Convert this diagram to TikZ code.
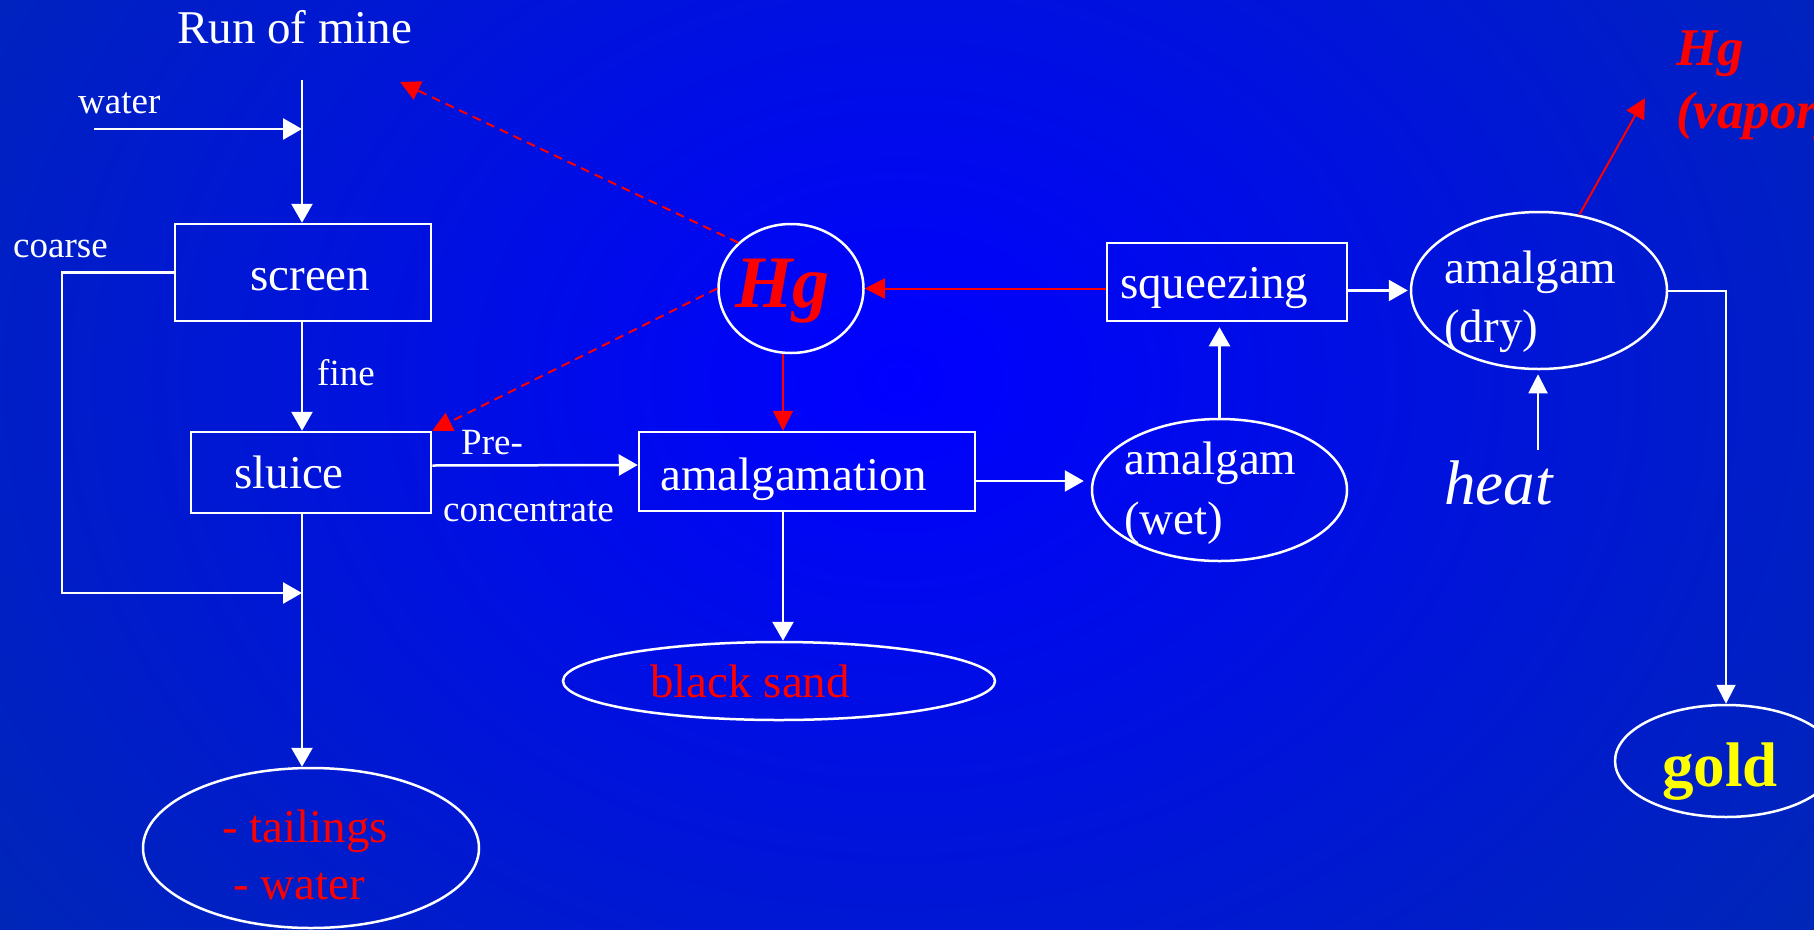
\documentclass[tikz,border=0pt]{standalone}
\usepackage{fontspec}
\setmainfont{Liberation Serif}
\usetikzlibrary{arrows.meta,calc,shapes.geometric}
\definecolor{bgedge}{RGB}{0,51,160}
\definecolor{bgmid}{RGB}{0,0,255}
\definecolor{hgred}{RGB}{255,0,0}
\definecolor{goldy}{RGB}{255,255,0}
\newcommand\fsz[1]{\fontsize{#1}{#1}\selectfont}
\begin{document}
\begin{tikzpicture}[x=1pt,y=-1pt,
 wline/.style={draw=white,line width=2.5pt},
 warrow/.style={wline,-{Triangle[length=19pt,width=21pt]}},
 thinarrow/.style={draw=white,line width=2pt,-{Triangle[length=19pt,width=19pt]}},
 rarrow/.style={draw=hgred,line width=2pt,-{Triangle[length=20pt,width=20pt]}},
 rdash/.style={rarrow,dash pattern=on 9pt off 6pt},
 boxnode/.style={draw=white,line width=2.5pt,rectangle,inner sep=0pt},
 ellnode/.style={draw=white,line width=2.5pt,ellipse,inner sep=0pt},
 txt/.style={anchor=base west,inner sep=0pt,text=white},
 big/.style={font=\fsz{47}},
 small/.style={font=\fsz{37}},
]
\useasboundingbox (0,0) rectangle (1814,929);
\clip (0,0) rectangle (1814,929);
\fill[bgedge] (0,0) rectangle (1814,929);
\shade[inner color=bgmid,outer color=bgedge] (900,380) ellipse (1500 and 1200);

% shapes
\node[boxnode,minimum width=256pt,minimum height=97pt] (screen) at (303,272.5) {};
\node[boxnode,minimum width=240pt,minimum height=81pt] (sluice) at (311,472.5) {};
\node[boxnode,minimum width=336pt,minimum height=79pt] (amalg) at (807,471.5) {};
\node[boxnode,minimum width=240pt,minimum height=78pt] (squeeze) at (1227,282) {};
\node[ellnode,minimum width=145pt,minimum height=129pt] (hg) at (791,288.5) {};
\node[ellnode,minimum width=256pt,minimum height=157pt] (dry) at (1539,290.5) {};
\node[ellnode,minimum width=255pt,minimum height=142pt] (wet) at (1219.5,490) {};
\node[ellnode,minimum width=432pt,minimum height=78pt] (sand) at (779,681) {};
\node[ellnode,minimum width=336pt,minimum height=160pt] (tail) at (311,848) {};
\node[ellnode,minimum width=222pt,minimum height=112pt] (gold) at (1726,761) {};

% texts
\node[txt,big] (trun) at (177,43) {Run of mine};
\node[txt,small] (twater) at (78,113) {water};
\node[txt,small] (tcoarse) at (13,257) {coarse};
\node[txt,small] (tfine) at (317,385) {fine};
\node[txt,big] (tscreen) at (250,290) {screen};
\node[txt,big] (tsluice) at (234,488.5) {sluice};
\node[txt,small] (tpre) at (461,454) {Pre-};
\node[txt,small] (tconc) at (443,521) {concentrate};
\node[txt,big] (tamalg) at (660,490) {amalgamation};
\node[txt,font=\fsz{74}\bfseries\itshape,text=hgred] (thg) at (735,307) {Hg};
\node[txt,big] (tsq) at (1120,298) {squeezing};
\node[txt,big] (tdry1) at (1444,283) {amalgam};
\node[txt,big] (tdry2) at (1444,342) {(dry)};
\node[txt,big] (twet1) at (1124,474.5) {amalgam};
\node[txt,big] (twet2) at (1124,534) {(wet)};
\node[txt,font=\fsz{63}\itshape] (theat) at (1444,504) {heat};
\node[txt,big,text=hgred] (tsand) at (650,697) {black sand};
\node[txt,big,text=hgred] (ttail1) at (222,842) {- tailings};
\node[txt,big,text=hgred] (ttail2) at (233,899) {- water};
\node[txt,font=\fsz{63}\bfseries,text=goldy] (tgold) at (1662,786) {gold};
\node[txt,font=\fsz{53}\bfseries\itshape,text=hgred] (tv1) at (1676,65) {Hg};
\node[txt,font=\fsz{53}\bfseries\itshape,text=hgred] (tv2) at (1676,128) {(vapor)};

% free ends
\coordinate (top) at (302,80);
\coordinate (wsrc) at (94,129);
\coordinate (join) at (302,593);
\coordinate (cl) at (62,0);
\coordinate (heatsrc) at (1538,450);
\coordinate (vap) at (1645,98);
\coordinate (mine) at (400,82);
\coordinate (mx) at (783,0);

% connectors
\draw[warrow] (top) -- (top |- screen.north);
\draw[warrow] (wsrc) -- (wsrc -| top);
\draw[warrow] (screen.west) -- (screen.west -| cl) |- (join);
\draw[warrow] (top |- screen.south) -- (top |- sluice.north);
\draw[warrow] (top |- sluice.south) -- (top |- tail.north);
\draw[warrow] ($(sluice.east)+(0,-7)$) -- ($(amalg.west)+(0,-6.5)$);
\draw[warrow] (mx |- amalg.south) -- (mx |- sand.north);
\draw[rarrow] (mx |- hg.south) -- (mx |- amalg.north);
\draw[warrow] ($(amalg.east)+(0,9.5)$) -- ($(wet.west)+(-7,-9)$);
\draw[warrow] (wet.north) -- ($(wet.north |- squeeze.south)+(0,5)$);
\draw[rarrow] (squeeze.west |- hg.east) -- (hg.east);
\draw[warrow] (squeeze.east |- dry.west) -- ($(dry.west)+(-2,0)$);
\draw[thinarrow] (dry.east) -| (gold.north);
\draw[thinarrow] (heatsrc) -- ($(heatsrc |- dry.south)+(0,4)$);
\draw[rarrow] (dry.62) -- (vap);
\draw[rdash] (hg.139) -- (mine);
\draw[rdash] (hg.west) -- (sluice.north east);
\end{tikzpicture}
\end{document}
